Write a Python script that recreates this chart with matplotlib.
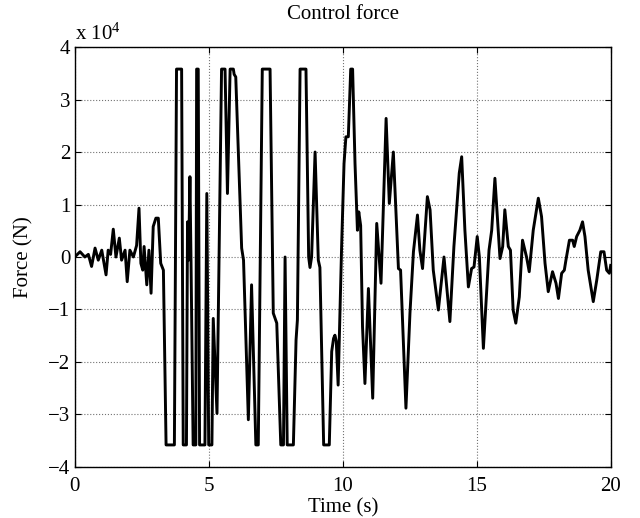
import numpy as np
import matplotlib
matplotlib.use("Agg")
import matplotlib.pyplot as plt

# control force, in units of 1e4 N
time_s = [
    0.0, 0.1, 0.2, 0.38, 0.51, 0.63, 0.76, 0.88, 1.01, 1.17, 1.25, 1.34, 1.44,
    1.54, 1.665, 1.75, 1.88, 1.96, 2.06, 2.19, 2.31, 2.40, 2.47, 2.54, 2.59,
    2.69, 2.77, 2.85, 2.93, 3.03, 3.12, 3.21, 3.31,
    3.41, 3.72, 3.80, 3.99, 4.05, 4.17, 4.21, 4.25, 4.30, 4.34, 4.42, 4.52,
    4.55, 4.61, 4.66, 4.86, 4.93, 5.00, 5.12, 5.17, 5.31, 5.48, 5.61, 5.70,
    5.80, 5.92, 5.95, 6.01, 6.10, 6.23, 6.30, 6.38, 6.48, 6.60, 6.76, 6.85,
    7.00, 7.29, 7.41, 7.54, 7.69, 7.79, 7.85, 7.93, 8.16, 8.26, 8.31, 8.41,
    8.63, 8.73, 8.78, 8.84, 8.97, 9.09, 9.15, 9.29, 9.50, 9.59, 9.66, 9.71,
    9.76, 9.83, 9.96, 10.05, 10.12, 10.21, 10.30, 10.37, 10.46, 10.55, 10.60,
    10.67, 10.74, 10.83, 10.96, 11.12, 11.27, 11.43, 11.62, 11.74, 11.89,
    12.08, 12.16, 12.36, 12.51, 12.64, 12.79, 12.88, 12.98, 13.16, 13.26,
    13.38, 13.57, 13.78, 14.00, 14.15, 14.25, 14.35, 14.44, 14.56, 14.69,
    14.81, 14.90, 15.02, 15.10, 15.25, 15.46, 15.56, 15.68, 15.87, 15.97,
    16.05, 16.18, 16.26, 16.36, 16.46, 16.59, 16.71, 16.86, 16.96, 17.11,
    17.30, 17.42, 17.55, 17.67, 17.83, 17.96, 18.05, 18.17, 18.27, 18.33,
    18.46, 18.58, 18.64, 18.73, 18.85, 18.95, 19.04, 19.16, 19.35, 19.48,
    19.63, 19.75, 19.85, 19.95, 20.0,
]
force_1e4 = [
    0.0, 0.05, 0.1, 0.0, 0.05, -0.18, 0.17, -0.06, 0.13, -0.34, 0.13, 0.05, 0.53,
    0.0, 0.36, -0.06, 0.13, -0.47, 0.13, 0.0, 0.22, 0.93, -0.12, -0.25, 0.2,
    -0.53, 0.13, -0.69, 0.58, 0.74, 0.74, -0.12, -0.25,
    -3.58, -3.58, 3.58, 3.58, -3.58, -3.58, 0.67, -0.06, 1.53, -0.06, -3.58, -3.58,
    3.58, 3.58, -3.58, -3.58, 1.21, -3.58, -3.58, -1.17, -2.98, 3.58, 3.58, 1.21,
    3.58, 3.58, 3.48, 3.43, 2.1, 0.17, -0.06, -1.4, -3.1, -0.53, -3.58, -3.58,
    3.58, 3.58, -1.07, -1.26, -3.58, -3.58, 0.0, -3.58, -3.58, -1.58, -1.2, 3.58,
    3.58, 0.0, -0.2, 0.0, 2.0, -0.06, -0.2, -3.58, -3.58, -1.8, -1.55, -1.49,
    -1.6, -2.44, 0.2, 1.78, 2.29, 2.29, 3.58, 3.58, 1.78, 0.51, 0.86,
    0.6, -1.33, -2.41, -0.6, -2.69, 0.64, -0.5, 2.64, 1.02, 2.0,
    -0.22, -0.25, -2.88, -1.07, 0.1, 0.8, 0.13, -0.22, 1.15, 0.9,
    -0.25, -1.01, 0.0, -1.23, 0.2, 0.9, 1.6, 1.91, 0.51, -0.57,
    -0.22, -0.19, 0.39, 0.0, -1.74, 0.13, 0.51, 1.5, -0.03, 0.2,
    0.9, 0.2, 0.13, -1.01, -1.26, -0.76, 0.32, 0.0, -0.28, 0.51,
    1.12, 0.77, -0.12, -0.66, -0.28, -0.5, -0.79, -0.31, -0.25, -0.06,
    0.32, 0.32, 0.2, 0.39, 0.51, 0.67, 0.39, -0.25, -0.85, -0.44,
    0.1, 0.1, -0.25, -0.31, -0.16,
]
x_ticks = [0, 5, 10, 15, 20]
y_ticks = [-4, -3, -2, -1, 0, 1, 2, 3, 4]

plt.rcParams['font.family'] = ['Liberation Serif', 'DejaVu Serif']
plt.rcParams['mathtext.fontset'] = 'custom'
plt.rcParams['mathtext.rm'] = 'Liberation Serif'
plt.rcParams['mathtext.default'] = 'regular'
plt.rcParams['font.size'] = 15

fig = plt.figure(figsize=(6.4, 5.18), dpi=100)
ax = fig.add_axes([0.1167, 0.0985, 0.8375, 0.8107])

ax.plot(time_s, force_1e4, color='black', linewidth=2.1)

ax.set_xlim(0, 20)
ax.set_ylim(-4, 4)
ax.set_xticks(x_ticks)
ax.set_yticks(y_ticks)
ax.grid(True, linestyle=':', color='0.45', linewidth=0.8)
ax.tick_params(direction='in', top=True, right=True, length=4, width=0.8)
ax.tick_params(axis='x', pad=7)
ax.tick_params(axis='y', pad=3)
for s in ax.spines.values():
    s.set_linewidth(1.0)

ax.set_title('Control force', fontsize=15, pad=20)
ax.set_xlabel('Time (s)', labelpad=2)
ax.set_ylabel('Force (N)', labelpad=11)
ax.text(0.0, 1.005, 'x 10$^{4}$', transform=ax.transAxes, ha='left', va='bottom')

fig.savefig('out.png', dpi=100)
